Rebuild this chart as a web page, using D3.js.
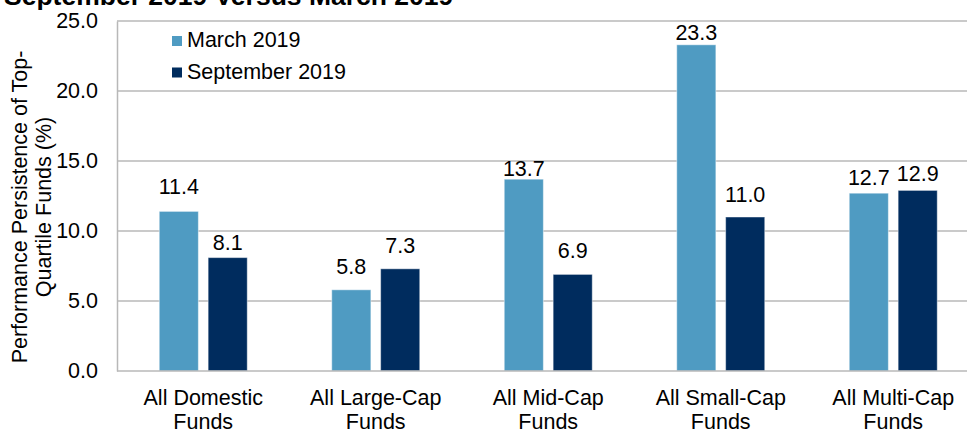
<!DOCTYPE html>
<html>
<head>
<meta charset="utf-8">
<script src="https://cdn.jsdelivr.net/npm/d3@7"></script>
<style>
  body { margin: 0; background: #fff; }
  svg { display: block; font-family: 'Liberation Sans', Arial, sans-serif; }
</style>
</head>
<body>
<div id="chart"></div>
<script>
const categories = [
  ['All Domestic', 'Funds'],
  ['All Large-Cap', 'Funds'],
  ['All Mid-Cap', 'Funds'],
  ['All Small-Cap', 'Funds'],
  ['All Multi-Cap', 'Funds'],
];
const seriesNames = ['March 2019', 'September 2019'];
const march2019 = [11.4, 5.8, 13.7, 23.3, 12.7];
const september2019 = [8.1, 7.3, 6.9, 11.0, 12.9];
const yTicks = [0, 5, 10, 15, 20, 25];

const colors = ['#4f9bc2', '#002c5e'];
const fontSize = 21.5;

const drawChart = () => {
  const totalWidth = 967;
  const totalHeight = 430;
  const plot = { left: 117, right: 979.5, top: 21, bottom: 371 };

  const catKeys = categories.map((c) => c.join(' '));
  const data = catKeys.map((key, i) => ({
    key,
    lines: categories[i],
    values: [march2019[i], september2019[i]],
  }));

  const x0 = d3.scaleBand().domain(catKeys).range([plot.left, plot.right]);
  const groupWidth = 88;
  const x1 = d3
    .scaleBand()
    .domain(seriesNames)
    .range([(x0.bandwidth() - groupWidth) / 2, (x0.bandwidth() + groupWidth) / 2])
    .paddingInner(0.2);
  const y = d3.scaleLinear().domain([0, 25]).range([plot.bottom, plot.top]);

  const svg = d3
    .select('#chart')
    .append('svg')
    .attr('width', totalWidth)
    .attr('height', totalHeight);

  // Title, cut off at the top
  svg
    .append('text')
    .attr('x', 4)
    .attr('y', 5)
    .attr('font-size', 26.5)
    .attr('font-weight', 'bold')
    .attr('fill', '#000')
    .text('September 2019 Versus March 2019');

  // Gridlines
  svg
    .append('g')
    .selectAll('line')
    .data(yTicks.filter((t) => t > 0))
    .join('line')
    .attr('x1', plot.left)
    .attr('x2', plot.right)
    .attr('y1', (d) => y(d))
    .attr('y2', (d) => y(d))
    .attr('stroke', '#b8b8b8')
    .attr('stroke-width', 1.5);

  // Y axis
  const yAxis = svg
    .append('g')
    .attr('transform', `translate(${plot.left},0)`)
    .call(
      d3
        .axisLeft(y)
        .tickValues(yTicks)
        .tickSize(0)
        .tickPadding(19)
        .tickFormat(d3.format('.1f'))
    );
  yAxis.select('.domain').attr('stroke', '#b8b8b8').attr('stroke-width', 1.5);
  yAxis
    .selectAll('text')
    .attr('font-size', fontSize)
    .attr('fill', '#000')
    .attr('font-family', null);

  // Y axis title
  const yTitle = svg
    .append('text')
    .attr('transform', 'translate(0,207) rotate(-90)')
    .attr('text-anchor', 'middle')
    .attr('font-size', fontSize)
    .attr('fill', '#000');
  yTitle.append('tspan').attr('x', 0).attr('y', 27).text('Performance Persistence of Top-');
  yTitle.append('tspan').attr('x', 0).attr('y', 50.5).text('Quartile Funds (%)');

  // Bars
  const groups = svg
    .append('g')
    .selectAll('g')
    .data(data)
    .join('g')
    .attr('transform', (d) => `translate(${x0(d.key)},0)`);

  groups
    .selectAll('rect')
    .data((d) => d.values.map((v, i) => ({ name: seriesNames[i], value: v, i })))
    .join('rect')
    .attr('x', (d) => x1(d.name))
    .attr('y', (d) => y(d.value))
    .attr('width', x1.bandwidth())
    .attr('height', (d) => y(0) - y(d.value))
    .attr('fill', (d) => colors[d.i])
    .attr('stroke', 'rgba(255,255,255,0.45)')
    .attr('stroke-width', 1);

  // Value labels (the original has hand-nudged positions)
  const labelGap = {
    '11.4': 17, '8.1': 8, '5.8': 16, '7.3': 16, '13.7': 3,
    '6.9': 16, '23.3': 5, '11.0': 15, '12.7': 8, '12.9': 9,
  };
  groups
    .selectAll('text.value')
    .data((d) => d.values.map((v, i) => ({ name: seriesNames[i], value: v })))
    .join('text')
    .attr('class', 'value')
    .attr('x', (d) => x1(d.name) + x1.bandwidth() / 2)
    .attr('y', (d) => y(d.value) - (labelGap[d.value.toFixed(1)] || 8))
    .attr('text-anchor', 'middle')
    .attr('font-size', fontSize)
    .attr('fill', '#000')
    .text((d) => d.value.toFixed(1));

  // X axis line
  svg
    .append('line')
    .attr('x1', plot.left)
    .attr('x2', plot.right)
    .attr('y1', y(0))
    .attr('y2', y(0))
    .attr('stroke', '#b8b8b8')
    .attr('stroke-width', 1.5);

  // Category labels
  const catLabels = svg
    .append('g')
    .selectAll('text')
    .data(data)
    .join('text')
    .attr('text-anchor', 'middle')
    .attr('font-size', fontSize)
    .attr('fill', '#000');
  catLabels
    .selectAll('tspan')
    .data((d) => d.lines.map((line) => ({ line, key: d.key })))
    .join('tspan')
    .attr('x', (d) => x0(d.key) + x0.bandwidth() / 2)
    .attr('y', (d, i) => 405 + i * 23.5)
    .text((d) => d.line);

  // Legend
  const legend = svg
    .append('g')
    .selectAll('g')
    .data(seriesNames)
    .join('g')
    .attr('transform', (d, i) => `translate(172,${36 + i * 31.5})`);
  legend
    .append('rect')
    .attr('width', 10)
    .attr('height', 10)
    .attr('fill', (d, i) => colors[i]);
  legend
    .append('text')
    .attr('x', 15)
    .attr('y', 11)
    .attr('font-size', fontSize)
    .attr('fill', '#000')
    .text((d) => d);
};

drawChart();
</script>
</body>
</html>
